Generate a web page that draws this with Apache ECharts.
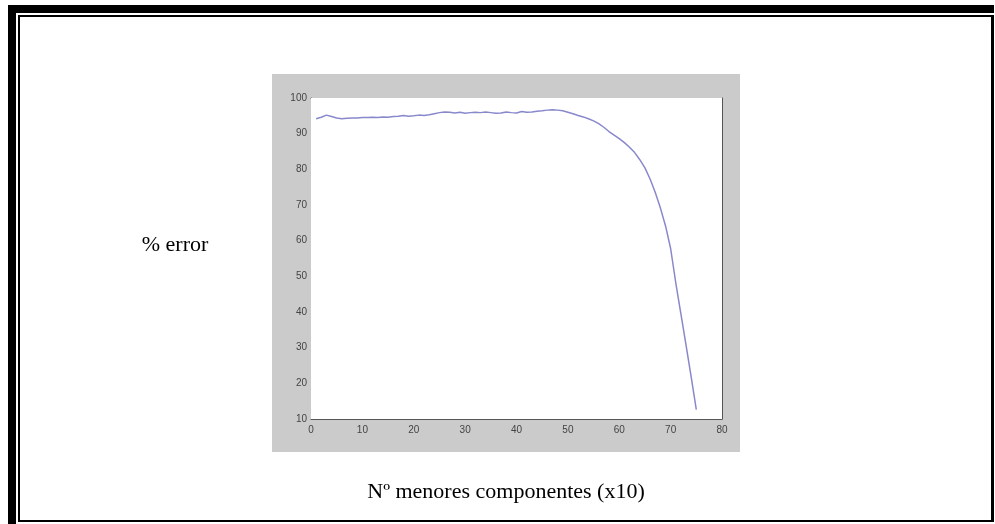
<!DOCTYPE html>
<html>
<head>
<meta charset="utf-8">
<title>% error vs Nº menores componentes</title>
<script src="https://cdn.jsdelivr.net/npm/echarts@6/dist/echarts.min.js"></script>
<style>
  html, body { margin: 0; padding: 0; background: #fff; }
  #chart { width: 995px; height: 524px; }
</style>
</head>
<body>
<div id="chart"></div>
<script>
// x: number of smallest components (x10)
const componentes = [
  1, 2, 3, 4, 5, 6, 7, 8, 9, 10,
  11, 12, 13, 14, 15, 16, 17, 18, 19, 20,
  21, 22, 23, 24, 25, 26, 27, 28, 29, 30,
  31, 32, 33, 34, 35, 36, 37, 38, 39, 40,
  41, 42, 43, 44, 45, 46, 47, 48, 49, 50,
  51, 52, 53, 54, 55, 56, 57, 58, 59, 60,
  61, 62, 63, 64, 65, 66, 67, 68, 69, 70,
  71, 72, 73, 74, 75
];
// % error
const errorPct = [
  94.2, 94.6, 95.2, 94.8, 94.4, 94.2, 94.3, 94.4, 94.4, 94.5,
  94.5, 94.6, 94.5, 94.7, 94.6, 94.8, 94.9, 95.1, 94.9, 95.0,
  95.2, 95.1, 95.3, 95.6, 95.9, 96.1, 96.0, 95.8, 96.0, 95.7,
  95.9, 96.0, 95.9, 96.1, 95.9, 95.7, 95.8, 96.1, 95.9, 95.8,
  96.2, 96.0, 96.1, 96.3, 96.4, 96.6, 96.7, 96.6, 96.4, 96.0,
  95.6, 95.1, 94.7, 94.2, 93.6, 92.8, 91.8, 90.6, 89.6, 88.6,
  87.5, 86.2, 84.7, 82.7, 80.4, 77.3, 73.6, 69.2, 64.2, 57.8,
  48.2, 39.5, 30.7, 21.8, 12.6
];
const xTicks = { min: 0, max: 80, interval: 10 };
const yTicks = { min: 10, max: 100, interval: 10 };
const yName = '% error';
const xName = 'Nº menores componentes (x10)';

const chart = echarts.init(document.getElementById('chart'));

const axisColor = '#555';
const tickStyle = { show: true, inside: true, length: 4, lineStyle: { color: axisColor } };
const lineStyle = { show: true, onZero: false, lineStyle: { color: axisColor, width: 1 } };
const serif = '"Liberation Serif", "DejaVu Serif", serif';
const tickFont = { color: '#444', fontSize: 10, fontFamily: 'Liberation Sans, sans-serif' };

const option = {
  backgroundColor: '#fff',
  animation: false,
  grid: {
    left: 311,
    right: 273,
    top: 98,
    bottom: 105,
    show: true,
    backgroundColor: '#fff',
    borderWidth: 0,
    z: 1
  },
  xAxis: [
    {
      type: 'value', position: 'bottom', ...xTicks,
      axisLine: lineStyle, axisTick: tickStyle,
      axisLabel: { ...tickFont, margin: 6 },
      splitLine: { show: false }
    },
    {
      type: 'value', position: 'top', ...xTicks,
      axisLine: lineStyle, axisTick: tickStyle,
      axisLabel: { show: false }, splitLine: { show: false }
    }
  ],
  yAxis: [
    {
      type: 'value', position: 'left', ...yTicks,
      axisLine: lineStyle, axisTick: tickStyle,
      axisLabel: { ...tickFont, margin: 4 },
      splitLine: { show: false }
    },
    {
      type: 'value', position: 'right', ...yTicks,
      axisLine: lineStyle, axisTick: tickStyle,
      axisLabel: { show: false }, splitLine: { show: false }
    }
  ],
  graphic: [
    // page frame
    { type: 'rect', silent: true, shape: { x: 8, y: 5, width: 8, height: 519 }, style: { fill: '#000' } },
    { type: 'rect', silent: true, shape: { x: 8, y: 5, width: 986, height: 8 }, style: { fill: '#000' } },
    { type: 'rect', silent: true, shape: { x: 18, y: 15, width: 2, height: 507 }, style: { fill: '#000' } },
    { type: 'rect', silent: true, shape: { x: 18, y: 15, width: 976, height: 2 }, style: { fill: '#000' } },
    { type: 'rect', silent: true, shape: { x: 991, y: 15, width: 3, height: 507 }, style: { fill: '#000' } },
    { type: 'rect', silent: true, shape: { x: 18, y: 520, width: 976, height: 2 }, style: { fill: '#000' } },
    // gray figure panel
    { type: 'rect', silent: true, z: -10, shape: { x: 272, y: 74, width: 468, height: 378 }, style: { fill: '#cbcbcb' } },
    // labels
    {
      type: 'text', silent: true, x: 175, y: 245,
      style: { text: yName, font: '22px ' + serif, fill: '#000', align: 'center', verticalAlign: 'middle' }
    },
    {
      type: 'text', silent: true, x: 506, y: 492,
      style: { text: xName, font: '22px ' + serif, fill: '#000', align: 'center', verticalAlign: 'middle' }
    }
  ],
  series: [
    {
      type: 'line',
      xAxisIndex: 0,
      yAxisIndex: 0,
      showSymbol: false,
      lineStyle: { color: '#8888cc', width: 1.5 },
      data: componentes.map((c, i) => [c, errorPct[i]])
    }
  ]
};

chart.setOption(option);
</script>
</body>
</html>
